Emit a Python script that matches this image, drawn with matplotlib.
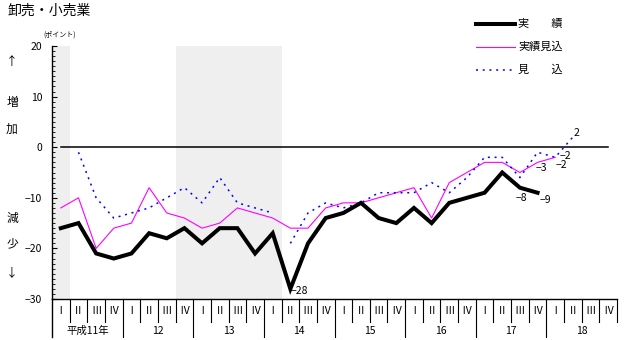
import numpy as np
import matplotlib.pyplot as plt

plt.rcParams['font.family'] = ['Noto Sans CJK JP', 'DejaVu Sans']

# 平成11年I期 - 18年IV期
years = ['平成11年', '12', '13', '14', '15', '16', '17', '18']
quarters = ['Ⅰ', 'Ⅱ', 'Ⅲ', 'Ⅳ']

# 実績 (H11 I - H17 IV)
jisseki = [-16, -15, -21, -22, -21, -17, -18, -16, -19, -16, -16, -21, -17, -28,
           -19, -14, -13, -11, -14, -15, -12, -15, -11, -10, -9, -5, -8, -9]
# 実績見込 (H11 I - H18 I)
jisseki_mikomi = [-12, -10, -20, -16, -15, -8, -13, -14, -16, -15, -12, -13, -14, -16,
                  -16, -12, -11, -11, -10, -9, -8, -14, -7, -5, -3, -3, -5, -3, -2]
# 見込 (H11 II - H14 I, H14 II - H18 II)
mikomi_1 = [-1, -10, -14, -13, -12, -10, -8, -11, -6, -11, -12, -13]
mikomi_2 = [-19, -13, -11, -12, -11, -9, -9, -9, -7, -9, -6, -2, -2, -6, -1, -2, 2]

# 景気後退期 (quarter index from, to)
recessions = [(0, 0), (7, 12)]

nq = len(years) * 4
W, H = 625, 340

fig = plt.figure(figsize=(W / 100, H / 100), dpi=100)
ax = fig.add_axes([52 / W, 41 / H, 565 / W, 253 / H])
ax.set_xlim(-0.5, nq - 0.5)
ax.set_ylim(-30, 20)

for a, b in recessions:
    ax.axvspan(a - 0.5, b + 0.5, color='#efefef', lw=0, zorder=0)

ax.plot([0, nq - 1], [0, 0], color='black', lw=1.1, zorder=1)

x_j = np.arange(len(jisseki))
x_jm = np.arange(len(jisseki_mikomi))
x_m1 = np.arange(1, 1 + len(mikomi_1))
x_m2 = np.arange(13, 13 + len(mikomi_2))

ax.plot(x_jm, jisseki_mikomi, color='#ff00ff', lw=0.8, zorder=3)
ax.plot(x_m1, mikomi_1, color='#0000ff', lw=1.1, ls=(0, (1.3, 3.1)), zorder=4)
ax.plot(x_m2, mikomi_2, color='#0000ff', lw=1.1, ls=(0, (1.3, 3.1)), zorder=4)
ax.plot(x_j, jisseki, color='black', lw=2.9, zorder=5, solid_joinstyle='miter')

# value labels
def label(x, y, txt, dx, dy, ha='center'):
    ax.annotate(txt.replace('-', '−'), (x, y), xytext=(dx, dy), textcoords='offset pixels',
                ha=ha, va='center', fontsize=7.5, zorder=6)

label(13, jisseki[13], '-28', 0, -2, ha='left')
label(26, jisseki[26], '-8', 2, -10)
label(27, jisseki[27], '-9', 8, -7)
label(27, jisseki_mikomi[27], '-3', 4, -6)
label(28, jisseki_mikomi[28], '-2', 6, -8)
label(28, mikomi_2[15], '-2', 10, 1)
label(29, mikomi_2[16], '2', 4, 4)

# axes
for s in ['top', 'right', 'bottom']:
    ax.spines[s].set_visible(False)
ax.spines['left'].set_linewidth(1.0)
ax.set_yticks(np.arange(-30, 21, 10))
ax.set_yticks(np.arange(-30, 21, 1), minor=True)
ax.tick_params(axis='y', which='major', direction='in', length=3.5, width=0.8,
               labelsize=7.5, pad=7)
ax.tick_params(axis='y', which='minor', direction='in', length=2.2, width=0.6)
ax.set_xticks([])
ax.set_yticklabels([str(v).replace('-', '−') for v in range(-30, 21, 10)])

# category table under the plot
px = 50 / 253
y0 = -30
qy = y0 - 23 * px
yy = y0 - 38 * px
ax.plot([-0.5, nq - 0.5], [y0, y0], color='black', lw=1.0, clip_on=False)
ax.plot([-0.5, -0.5], [y0, yy], color='black', lw=1.0, clip_on=False)
for b in range(1, nq + 1):
    ybot = yy if (b % 4 == 0 and b < nq) else qy
    ax.plot([b - 0.5, b - 0.5], [y0, ybot], color='black', lw=0.8, clip_on=False)
for i in range(nq):
    ax.text(i, y0 - 12.5 * px, quarters[i % 4], ha='center', va='center',
            fontsize=7.5, clip_on=False)
for k, yr in enumerate(years):
    ax.text(4 * k + 1.5, y0 - 31.5 * px, yr, ha='center', va='center',
            fontsize=7.5, clip_on=False)

# texts around
def ftext(x, y, s, **kw):
    fig.text(x / W, 1 - y / H, s, va='center', **kw)

ftext(8, 11, '卸売・小売業', fontsize=10, ha='left')
ftext(60, 35, '(ポイント)', fontsize=5, ha='center')
for y, s in [(62, '↑'), (102, '増'), (129, '加'), (218, '減'), (244, '少'), (273, '↓')]:
    ftext(12, y, s, fontsize=8.5, ha='center')

# legend
leg = [('実　　績', dict(color='black', lw=2.9)),
       ('実績見込', dict(color='#ff00ff', lw=0.8)),
       ('見　　込', dict(color='#0000ff', lw=1.1, ls=(0, (1.3, 3.1))))]
for k, (name, st) in enumerate(leg):
    yp = 24 + 23 * k
    fig.add_artist(plt.Line2D([476 / W, 515 / W], [1 - yp / H, 1 - yp / H], **st))
    ftext(518, yp, name, fontsize=8, ha='left')

plt.savefig('out.png', dpi=100)
